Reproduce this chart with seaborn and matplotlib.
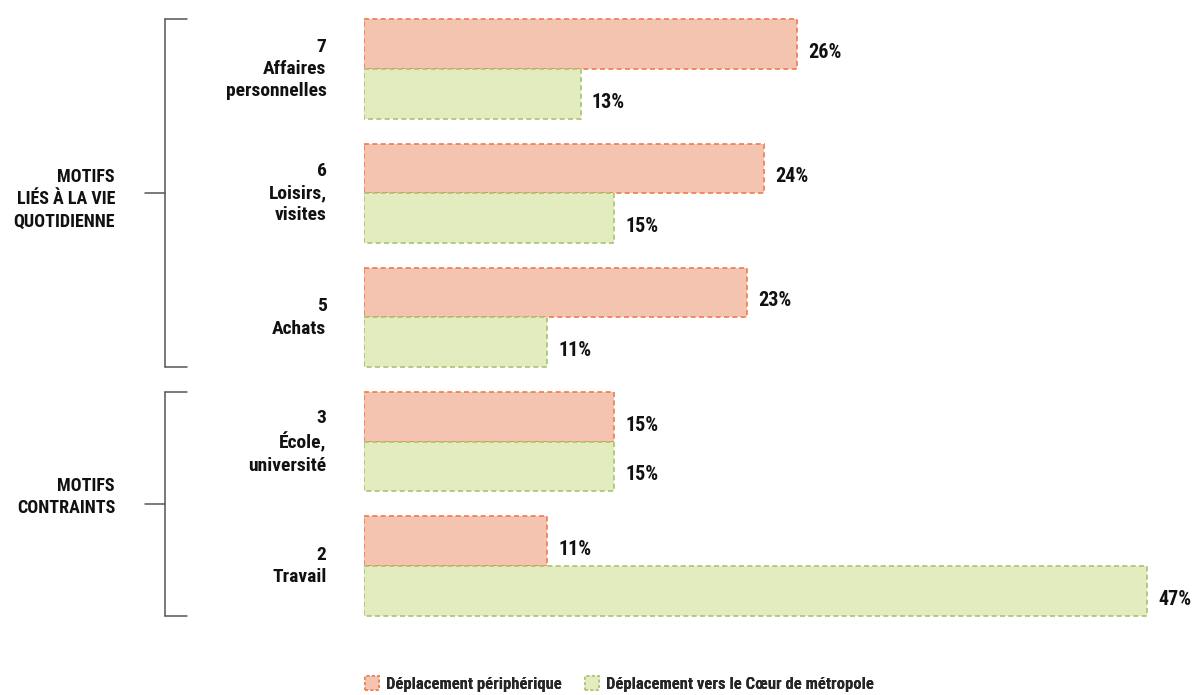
import matplotlib
matplotlib.use("Agg")
import matplotlib.pyplot as plt
import matplotlib.transforms as mtransforms
from matplotlib.lines import Line2D
from matplotlib.patches import Patch
import seaborn as sns
import pandas as pd

categories = ["7\nAffaires\npersonnelles", "6\nLoisirs,\nvisites", "5\nAchats",
              "3\nÉcole,\nuniversité", "2\nTravail"]
series_names = ["Déplacement périphérique", "Déplacement vers le Cœur de métropole"]
peripherique = [26, 24, 23, 15, 11]
coeur = [13, 15, 11, 15, 47]
group_labels = ["MOTIFS\nLIÉS À LA VIE\nQUOTIDIENNE", "MOTIFS\nCONTRAINTS"]
group_spans = [(0, 2), (3, 4)]

fill_colors = ["#F4C4B1", "#E3ECBF"]
edge_colors = ["#EC7D4F", "#A9C46F"]

sns.set_theme(style="white")
plt.rcParams['font.family'] = ['Roboto Condensed', 'DejaVu Sans']

FW = "bold"
TXT = "#111111"

df = pd.DataFrame({
    "motif": categories * 2,
    "serie": [series_names[0]] * len(categories) + [series_names[1]] * len(categories),
    "valeur": peripherique + coeur,
})

W, H = 1195, 695
fig = plt.figure(figsize=(W / 100, H / 100), dpi=100)
ax = fig.add_axes([364 / W, 55 / H, (W - 364) / W, 640 / H])

sns.barplot(data=df, x="valeur", y="motif", hue="serie", order=categories,
            hue_order=series_names, palette=fill_colors, saturation=1, width=0.8,
            ax=ax, legend=False, linewidth=1.2)

for cont, ec in zip(ax.containers, edge_colors):
    for p in cont:
        p.set_edgecolor(ec)
        p.set_linestyle((0, (3, 2)))
    anns = ax.bar_label(cont, labels=[f"{int(v)}%" for v in cont.datavalues],
                        padding=8, fontsize=14.5, fontweight=FW, color=TXT)
    for a in anns:
        a.xyann = (8, -6)

pxu = 124.25
ax.set_xlim(0, (W - 364) / 16.66)
ax.set_ylim(4 + 74 / pxu, -69 / pxu)
ax.set_xlabel("")
ax.set_ylabel("")
ax.set_xticks([])
for s in ax.spines.values():
    s.set_visible(False)
ax.tick_params(axis="y", length=0, pad=27)
for lbl in ax.get_yticklabels():
    lbl.set_fontsize(14)
    lbl.set_fontweight(FW)
    lbl.set_color(TXT)
    lbl.set_linespacing(1.3)
    lbl.set_va("center")

trans = mtransforms.blended_transform_factory(fig.transFigure, ax.transData)
xv, xt, xm, xtext = 165 / W, 187 / W, 145 / W, 115 / W
text_offsets_px = [-6, 7]
for (a, b), glabel, off in zip(group_spans, group_labels, text_offsets_px):
    top, bot = a - 0.4, b + 0.4
    mid = (top + bot) / 2
    kw = dict(transform=trans, color="#555555", lw=1.1, clip_on=False)
    fig.add_artist(Line2D([xv, xv], [top, bot], **kw))
    fig.add_artist(Line2D([xv, xt], [top, top], **kw))
    fig.add_artist(Line2D([xv, xt], [bot, bot], **kw))
    fig.add_artist(Line2D([xm, xv], [mid, mid], **kw))
    t = mtransforms.offset_copy(trans, fig=fig, x=0, y=off, units="dots")
    fig.text(xtext, mid, glabel, transform=t, ha="right", va="center",
             fontsize=13, fontweight=FW, color=TXT, linespacing=1.3)

handles = [Patch(facecolor=fc, edgecolor=ec, linestyle=(0, (2, 1.5)), linewidth=1.1)
           for fc, ec in zip(fill_colors, edge_colors)]
legend_x_px = [350, 570]
for h, name, lx in zip(handles, series_names, legend_x_px):
    leg = fig.legend([h], [name], loc="center left",
                     bbox_to_anchor=(lx / W, 11 / H), frameon=False,
                     handlelength=0.85, handleheight=0.85, handletextpad=0.4,
                     prop={"weight": FW, "size": 12})
    fig.add_artist(leg)

fig.savefig("out.png", dpi=100)
